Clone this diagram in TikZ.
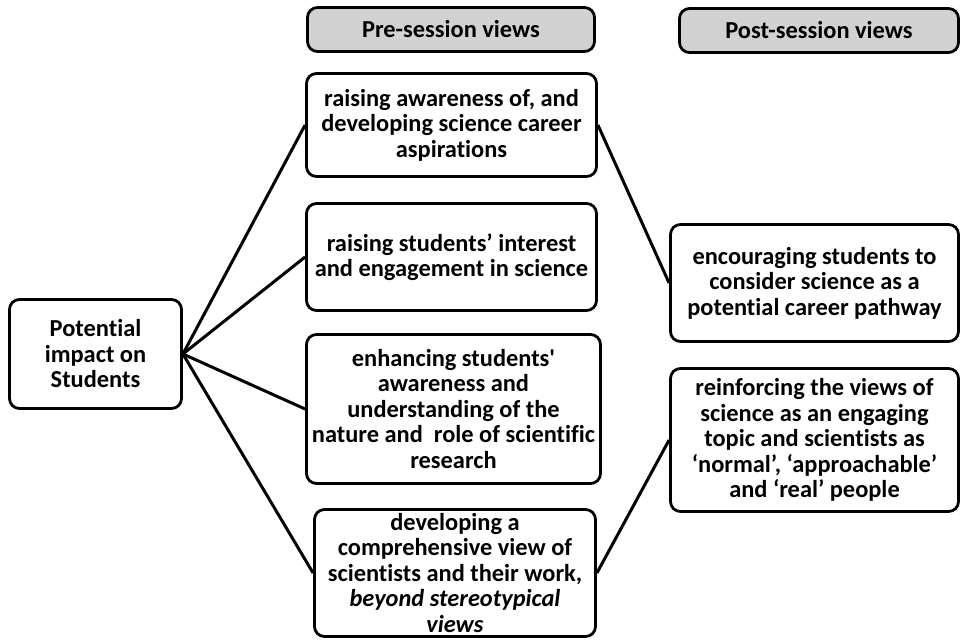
\documentclass[tikz,border=0pt]{standalone}
\usepackage{fontspec}
\setmainfont[Ligatures={NoCommon,TeXOff}]{Carlito}
\begin{document}
\begin{tikzpicture}[x=1bp,y=-1bp,
  box/.style={draw=black,line width=2.8bp,rounded corners=10bp,fill=white,
    inner sep=0pt,align=center,
    font=\fontsize{24.5}{25.6}\selectfont\bfseries},
  head/.style={box,fill=gray!35},
  conn/.style={line width=3bp}]
\useasboundingbox (0,0) rectangle (962,641);
\fill[white] (0,0) rectangle (962,641);
\node[head,minimum width=287bp,minimum height=44bp] (h1) at (451,29.5) {Pre-session views};
\node[head,minimum width=279bp,minimum height=44bp] (h2) at (819,30.5) {Post-session views};
\node[box,minimum width=290bp,minimum height=103bp] (b1) at (451.5,125) {raising awareness of, and\\developing science career\\aspirations};
\node[box,minimum width=290bp,minimum height=107bp] (b2) at (451.5,257) {raising students’ interest\\and engagement in science};
\node[box,minimum width=294bp,minimum height=149bp] (b3) at (453.5,409) {enhancing students'\\awareness and\\understanding of the\\nature and\ \ role of scientific\\research};
\node[box,minimum width=281bp,minimum height=127bp] (b4) at (455,573) {developing a\\comprehensive view of\\scientists and their work,\\\textit{beyond stereotypical}\\\textit{views}};
\node[box,minimum width=172bp,minimum height=109bp] (pot) at (95.5,354) {Potential\\impact on\\Students};
\node[box,minimum width=288bp,minimum height=117bp] (p1) at (814.5,283) {encouraging students to\\consider science as a\\potential career pathway};
\node[box,minimum width=288bp,minimum height=143bp] (p2) at (814.5,440) {reinforcing the views of\\science as an engaging\\topic and scientists as\\‘normal’, ‘approachable’\\and ‘real’ people};
\draw[conn] (pot.east) -- (b1.west);
\draw[conn] (pot.east) -- (b2.west);
\draw[conn] (pot.east) -- (b3.west);
\draw[conn] (pot.east) -- (b4.west);
\draw[conn] (b1.east) -- (p1.west);
\draw[conn] (b4.east) -- (p2.west);
\end{tikzpicture}
\end{document}
